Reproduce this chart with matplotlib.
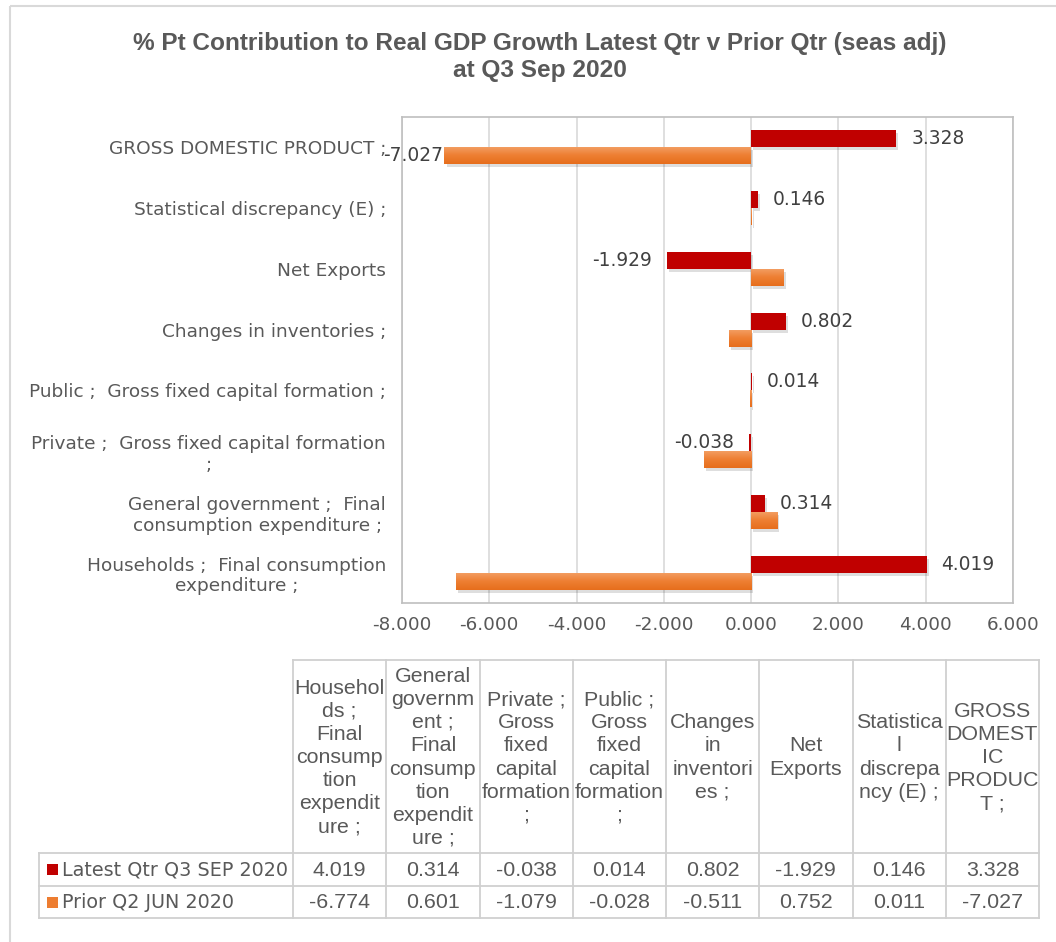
import numpy as np
import matplotlib
matplotlib.use("Agg")
import matplotlib.pyplot as plt
from matplotlib import patheffects as pe
from matplotlib.patches import Rectangle
from matplotlib.colors import LinearSegmentedColormap

plt.rcParams["axes.unicode_minus"] = False

# ---- data -------------------------------------------------------------
categories = [
    "Households ;  Final consumption\nexpenditure ;",
    "General government ;  Final\nconsumption expenditure ;",
    "Private ;  Gross fixed capital formation\n;",
    "Public ;  Gross fixed capital formation ;",
    "Changes in inventories ;",
    "Net Exports",
    "Statistical discrepancy (E) ;",
    "GROSS DOMESTIC PRODUCT ;",
]
table_headers = [
    "Househol\nds ;\nFinal\nconsump\ntion\nexpendit\nure ;",
    "General\ngovernm\nent ;\nFinal\nconsump\ntion\nexpendit\nure ;",
    "Private ;\nGross\nfixed\ncapital\nformation\n;",
    "Public ;\nGross\nfixed\ncapital\nformation\n;",
    "Changes\nin\ninventori\nes ;",
    "Net\nExports",
    "Statistica\nl\ndiscrepa\nncy (E) ;",
    "GROSS\nDOMEST\nIC\nPRODUC\nT ;",
]
series_names = ["Latest Qtr Q3 SEP 2020", "Prior Q2 JUN 2020"]
latest = [4.019, 0.314, -0.038, 0.014, 0.802, -1.929, 0.146, 3.328]
prior = [-6.774, 0.601, -1.079, -0.028, -0.511, 0.752, 0.011, -7.027]
x_ticks = [-8, -6, -4, -2, 0, 2, 4, 6]

# ---- styling ----------------------------------------------------------
RED = "#C00000"
ORANGE = "#ED7D31"
TXT = "#595959"
DARK = "#404040"
GRID = "#D9D9D9"
SANS = ["DejaVu Sans"]
TBL = ["Liberation Sans", "DejaVu Sans"]

W, H = 1056, 942
fig = plt.figure(figsize=(W / 100, H / 100), dpi=100)
fig.patch.set_facecolor("white")

# pixel-space overlay for frame, title and data table
ov = fig.add_axes([0, 0, 1, 1], zorder=0)
ov.set_xlim(0, W)
ov.set_ylim(H, 0)
ov.axis("off")
ov.patch.set_visible(False)

# outer chart frame (right and bottom edges run past the canvas)
ov.add_patch(Rectangle((10, 6), W + 20, H + 20, fill=False, ec=GRID, lw=1.5, clip_on=False))

ov.text(540, 57, "% Pt Contribution to Real GDP Growth Latest Qtr v Prior Qtr (seas adj)\nat Q3 Sep 2020",
        ha="center", va="center", fontsize=17.6, fontweight="bold", color=TXT,
        family=TBL, linespacing=1.2)

# ---- bar chart --------------------------------------------------------
L, R, T, B = 402, 1013, 117, 603
ax = fig.add_axes([L / W, 1 - B / H, (R - L) / W, (B - T) / H], zorder=2)
ax.patch.set_alpha(0)

y = np.arange(len(categories))
bh = 0.28
shadow = [pe.SimplePatchShadow(offset=(1.5, -2.2), shadow_rgbFace="black", alpha=0.13), pe.Normal()]

bars_latest = ax.barh(y + bh / 2, latest, height=bh, color=RED, zorder=3)
bars_prior = ax.barh(y - bh / 2, prior, height=bh, color=ORANGE, zorder=3)
for b in list(bars_latest) + list(bars_prior):
    b.set_path_effects(shadow)

# vertical gradient on the orange bars: lighter at the top
grad = np.linspace(0, 1, 64).reshape(-1, 1)
ocmap = LinearSegmentedColormap.from_list("og", ["#E66E1C", "#EE7F33", "#F3A066"])
for b in bars_prior:
    x0, y0 = b.get_x(), b.get_y()
    w, h = b.get_width(), b.get_height()
    if abs(w) < 1e-9:
        continue
    im = ax.imshow(grad, cmap=ocmap, aspect="auto", origin="lower",
                   extent=(x0, x0 + w, y0, y0 + h), zorder=3.5, interpolation="bilinear")
    im.set_clip_path(b)

ax.set_xlim(-8, 6)
ax.set_ylim(-0.5, len(categories) - 0.5)
ax.set_xticks(x_ticks)
ax.set_xticklabels([f"{v:.3f}" for v in x_ticks], fontsize=13.2, color=TXT, family=SANS)
ax.set_yticks(y)
ax.set_yticklabels(categories, fontsize=13.3, color=TXT, family=SANS)
for lab in ax.get_yticklabels():
    lab.set_multialignment("center")
ax.tick_params(axis="y", length=0, pad=11.5)
ax.tick_params(axis="x", length=0, pad=9)
ax.grid(axis="x", color=GRID, lw=1.2, zorder=0)
ax.set_axisbelow(True)
for s in ax.spines.values():
    s.set_color("#BFBFBF")
    s.set_linewidth(1.2)

# value labels for the latest quarter
for yi, v in zip(y, latest):
    off = 10.8 if v >= 0 else -10.8
    ax.annotate(f"{v:.3f}", (v, yi + bh / 2), xytext=(off, 0), textcoords="offset points",
                ha="left" if v >= 0 else "right", va="center", fontsize=13.4,
                color=DARK, family=SANS, zorder=5)
# the prior-quarter GDP value is labelled as well
gi = len(categories) - 1
ax.annotate(f"{prior[gi]:.3f}", (prior[gi], gi - bh / 2), xytext=(-1, 0), textcoords="offset points",
            ha="right", va="center", fontsize=13.4, color=DARK, family=SANS, zorder=5)

# ---- data table -------------------------------------------------------
tx0, tx1 = 293, 1039
lx0 = 39
ty0, ty1, ty2, ty3 = 660, 853, 886, 918
ncol = len(table_headers)
cw = (tx1 - tx0) / ncol
lc = "#D0D0D0"
lw = 1.3
ov.plot([tx0, tx1], [ty0, ty0], color=lc, lw=lw)
for k in range(ncol + 1):
    xx = tx0 + k * cw
    ov.plot([xx, xx], [ty0, ty3], color=lc, lw=lw)
ov.plot([lx0, tx1], [ty1, ty1], color=lc, lw=lw)
ov.plot([lx0, tx1], [ty2, ty2], color=lc, lw=lw)
ov.plot([lx0, tx1], [ty3, ty3], color=lc, lw=lw)
ov.plot([lx0, lx0], [ty1, ty3], color=lc, lw=lw)

for k, hdr in enumerate(table_headers):
    ov.text(tx0 + (k + 0.5) * cw, (ty0 + ty1) / 2 + 1, hdr, ha="center", va="center",
            fontsize=15.4, color=TXT, family=TBL, linespacing=1.27)

rows = [latest, prior]
row_mid = [(ty1 + ty2) / 2, (ty2 + ty3) / 2]
for vals, ym, name, col in zip(rows, row_mid, series_names, [RED, ORANGE]):
    for k, v in enumerate(vals):
        ov.text(tx0 + (k + 0.5) * cw, ym + 1, f"{v:.3f}", ha="center", va="center",
                fontsize=15.4, color=TXT, family=TBL)
    ov.add_patch(Rectangle((47, ym - 5.5), 10.5, 11, color=col, lw=0))
    ov.text(62, ym + 1, name, ha="left", va="center", fontsize=13.8, color=TXT, family=SANS)

fig.savefig("out.png", dpi=100, facecolor="white")
